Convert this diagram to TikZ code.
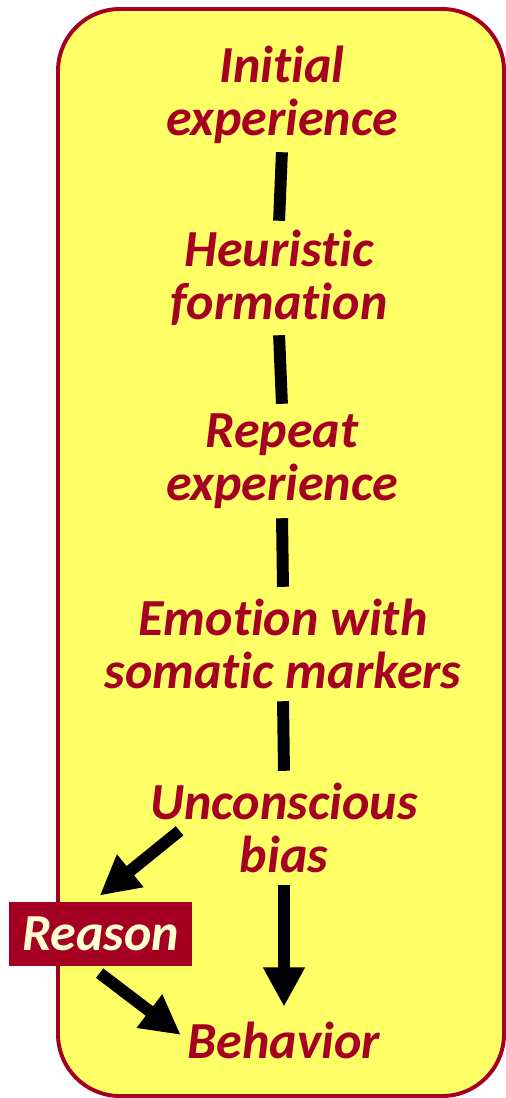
\documentclass[tikz,border=0pt]{standalone}
\usepackage{fontspec}
\setmainfont{Carlito}[Ligatures={NoCommon}]
\usetikzlibrary{arrows.meta}
\definecolor{darkred}{HTML}{A50021}
\definecolor{notepad}{HTML}{FFFF66}
\definecolor{cream}{HTML}{FFFFD2}
\tikzset{
    stage/.style={align=center, inner sep=0pt, minimum height=78pt, text=darkred,
        font=\fontsize{37}{37.7}\selectfont\bfseries\itshape},
    link/.style={line width=8.5pt, shorten <=1.5pt, shorten >=1.5pt},
}
\newcommand{\drawarrow}{\draw[-{Triangle[length=28pt,width=28pt]}, line width=8.5pt]}

\begin{document}
\begin{tikzpicture}[x=0.025cm, y=-0.025cm]
    \useasboundingbox (0,0) rectangle (506,1098);

    % Draw panel
    \draw[darkred, fill=notepad, line width=2.8pt, rounded corners=44pt] (58,9) rectangle (504,1096);

    % Draw stages
    \node[stage] (initial) at (282,95) {Initial\\experience};
    \node[stage] (heuristic) at (279,278) {Heuristic\\formation};
    \node[stage] (repeat) at (282,461) {Repeat\\experience};
    \node[stage] (emotion) at (283,644) {Emotion with\\somatic markers};
    \node[stage] (bias) at (284,828) {Unconscious\\bias};
    \node[stage, minimum height=47pt] (behavior) at (284,1040) {Behavior};
    \node[stage, minimum width=130pt, minimum height=45.5pt, fill=darkred, text=cream] (reason) at (100.5,934) {Reason};

    % Draw links
    \draw[link] (initial.south) -- (heuristic.north);
    \draw[link] (heuristic.south) -- (repeat.north);
    \draw[link] (repeat.south) -- (emotion.north);
    \draw[link] (emotion.south) -- (bias.north);

    % Draw arrows
    \drawarrow[shorten <=1.5pt] (bias.south) -- (behavior.north);
    \drawarrow[shorten >=7pt] ([xshift=21pt, yshift=-2pt]bias.west) -- ([xshift=-6pt]reason.north);
    \drawarrow[shorten <=8pt, shorten >=6pt] ([xshift=-7pt]reason.south) -- (behavior.west);
\end{tikzpicture}
\end{document}
